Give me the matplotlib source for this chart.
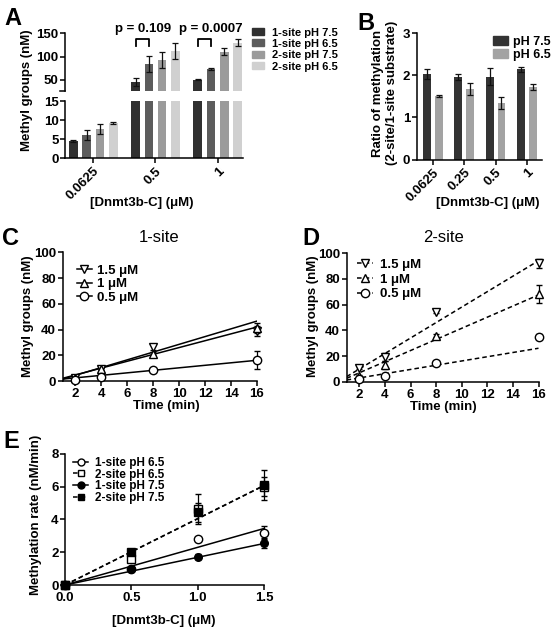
import matplotlib
matplotlib.use('Agg')
import matplotlib.pyplot as plt
import numpy as np
from matplotlib.lines import Line2D
from matplotlib.patches import Rectangle

plt.rcParams['font.family'] = ['Liberation Sans', 'DejaVu Sans']
plt.rcParams['font.weight'] = 'bold'
plt.rcParams['axes.labelweight'] = 'bold'
plt.rcParams['axes.linewidth'] = 1.1
plt.rcParams['xtick.major.width'] = 1.1
plt.rcParams['ytick.major.width'] = 1.1
plt.rcParams['xtick.major.size'] = 3.5
plt.rcParams['ytick.major.size'] = 3.5
plt.rcParams['xtick.major.pad'] = 1.5
plt.rcParams['ytick.major.pad'] = 1.2
plt.rcParams['xtick.labelsize'] = 9.5
plt.rcParams['ytick.labelsize'] = 9.5

# ---------------- data ----------------
# Panel A
a_conc = ['0.0625', '0.5', '1']
a_series = ['1-site pH 7.5', '1-site pH 6.5', '2-site pH 7.5', '2-site pH 6.5']
a_vals = [[4.5, 46, 51], [6.0, 84, 74], [7.6, 93, 111], [9.3, 113, 130]]
a_errs = [[0.3, 9, 1.2], [1.3, 17, 2.5], [1.3, 18, 8], [0.2, 17, 7]]
a_colors = ['#303030', '#5c5c5c', '#9b9b9b', '#d0d0d0']
a_pvals = ['p = 0.109', 'p = 0.0007']

# Panel B
b_conc = ['0.0625', '0.25', '0.5', '1']
b_series = ['pH 7.5', 'pH 6.5']
b_vals = [[2.04, 1.96, 1.97, 2.15], [1.51, 1.68, 1.34, 1.73]]
b_errs = [[0.12, 0.08, 0.20, 0.06], [0.02, 0.15, 0.14, 0.07]]
b_colors = ['#333333', '#a3a3a3']

# Panel C (1-site) and D (2-site): time courses
time = [2, 4, 8, 16]
conc_labels = ['1.5 μM', '1 μM', '0.5 μM']
c_vals = [[2.3, 9.6, 26.4, 39], [2.0, 9.0, 21.3, 41], [1.0, 3.1, 8.3, 16.6]]
c_errs = [[0.5, 1.0, 2.0, 4], [0.5, 1.0, 1.0, 4], [0.3, 0.5, 1.0, 7]]
c_slope = [3.01, 2.66, 0.975]
c_icpt = [-1.6, -0.6, 0.5]
d_vals = [[10.9, 19, 54.5, 92.2], [4.4, 13, 35.8, 68.3], [2.0, 4.4, 14.8, 35]]
d_errs = [[1.0, 3.0, 1.0, 3.5], [1.0, 3.0, 1.0, 7], [0.5, 0.5, 1.0, 2]]
d_slope = [6.02, 4.33, 1.65]
d_icpt = [-2.1, -1.7, -0.35]
cd_markers = ['v', '^', 'o']

# Panel E: rate vs enzyme
e_conc = [0, 0.5, 1.0, 1.5]
e_labels = ['1-site pH 6.5', '2-site pH 6.5', '1-site pH 7.5', '2-site pH 7.5']
e_vals = [[0, 1.0, 2.79, 3.19], [0, 1.58, 4.63, 6.0], [0, 0.98, 1.73, 2.54], [0, 2.03, 4.43, 6.1]]
e_errs = [[0, 0.05, 0.1, 0.4], [0, 0.2, 0.9, 0.6], [0, 0.05, 0.15, 0.3], [0, 0.1, 0.6, 0.9]]
e_slope = [2.3, 4.05, 1.69, 4.05]
e_markers = ['o', 's', 'o', 's']
e_filled = [False, False, True, True]
e_dashed = [False, True, False, True]

# ---------------- figure ----------------
W, H = 555, 632
fig = plt.figure(figsize=(W / 100, H / 100), dpi=100)


def fx(x):
    return x / W


def fy(y):
    return 1 - y / H


def axes_px(l, t, r, b):
    return fig.add_axes([l / W, 1 - b / H, (r - l) / W, (b - t) / H])


def clean(ax):
    ax.spines['top'].set_visible(False)
    ax.spines['right'].set_visible(False)


def ftext(x, y, s, **kw):
    fig.text(fx(x), fy(y), s, **kw)


LW = 1.1

# ---------------- Panel A ----------------
axA_up = axes_px(65, 33.3, 243, 91)
axA_lo = axes_px(65, 101, 243, 158.3)
a_off = [-0.321, -0.107, 0.107, 0.321]
a_w = 0.137
xa = np.arange(len(a_conc))
for i in range(4):
    for ax in (axA_up, axA_lo):
        ax.bar(xa + a_off[i], a_vals[i], width=a_w, color=a_colors[i],
               yerr=a_errs[i], capsize=2,
               error_kw=dict(elinewidth=0.9, capthick=0.9, ecolor='#111111'))
for ax in (axA_up, axA_lo):
    clean(ax)
    ax.set_xlim(-0.455, 2.407)
axA_up.set_ylim(26.4, 150)
axA_up.set_yticks([50, 100, 150])
axA_up.spines['bottom'].set_visible(False)
axA_up.tick_params(bottom=False, labelbottom=False)
axA_up.plot([-0.03, 0.0], [0, 0], transform=axA_up.transAxes, color='k', lw=LW, clip_on=False)
axA_lo.set_ylim(0, 15)
axA_lo.set_yticks([0, 5, 10, 15])
axA_lo.set_xticks(xa)
axA_lo.set_xticklabels(a_conc, rotation=45, ha='right', rotation_mode='anchor')

# p-value brackets
for gi, (ptxt, tx) in enumerate(zip(a_pvals, [0.808, 1.893])):
    g = gi + 1
    x1, x2 = g + a_off[0], g + a_off[1]
    axA_up.plot([x1, x1, x2, x2], [122.8, 137.8, 137.8, 122.8], color='k', lw=1.3, clip_on=False)
    axA_up.text(tx, 152, ptxt, ha='center', va='baseline', fontsize=9.5, clip_on=False)

ftext(27, 90, 'Methyl groups (nM)', rotation=90, ha='center', va='center', fontsize=9.5)
ftext(142, 203, '[Dnmt3b-C] (μM)', ha='center', va='center', fontsize=9.5)
ftext(4, 25, 'A', fontsize=17, va='baseline')

# legend A
rows = [31.7, 42.7, 54.0, 65.7]
for i, lab in enumerate(a_series):
    fig.add_artist(Rectangle((fx(251.7), fy(rows[i] + 3.5)), 12.3 / W, 7 / H,
                             transform=fig.transFigure, color=a_colors[i]))
    ftext(271.7, rows[i], lab, va='center_baseline', fontsize=8)

# ---------------- Panel B ----------------
axB = axes_px(416.7, 33.3, 541.5, 159.5)
xb = np.arange(len(b_conc))
b_off = [-0.186, 0.186]
for i in range(2):
    axB.bar(xb + b_off[i], b_vals[i], width=0.25, color=b_colors[i], yerr=b_errs[i],
            capsize=2, error_kw=dict(elinewidth=0.9, capthick=0.9, ecolor='#111111'))
clean(axB)
axB.set_xlim(-0.51, 3.46)
axB.set_ylim(0, 3)
axB.set_yticks([0, 1, 2, 3])
axB.set_xticks(xb)
axB.set_xticklabels(b_conc, rotation=45, ha='right', rotation_mode='anchor')
ftext(385, 93, 'Ratio of methylation\n(2-site/1-site substrate)', rotation=90,
      ha='center', va='center', fontsize=9.5, multialignment='center')
ftext(488, 203, '[Dnmt3b-C] (μM)', ha='center', va='center', fontsize=9.5)
ftext(357, 30, 'B', fontsize=17, va='baseline')
rows = [40.7, 53.3]
for i, lab in enumerate(b_series):
    fig.add_artist(Rectangle((fx(493), fy(rows[i] + 4.5)), 15 / W, 9 / H,
                             transform=fig.transFigure, color=b_colors[i]))
    ftext(513, rows[i], lab, va='center_baseline', fontsize=9)


# ---------------- Panels C & D ----------------
def time_panel(ax, vals, errs, slopes, icpts, ls):
    tl = np.array([1.0, 16.0])
    for i in range(3):
        ax.plot(tl, slopes[i] * tl + icpts[i], color='k', lw=LW, ls=ls)
        ax.errorbar(time, vals[i], yerr=errs[i], fmt=cd_markers[i], ms=6, mfc='white',
                    mec='k', mew=1.0, ecolor='k', elinewidth=0.9, capsize=2, capthick=0.9,
                    ls='none', clip_on=False, zorder=3)
    clean(ax)
    ax.set_xlim(1, 16)
    ax.set_ylim(0, 100)
    ax.set_xticks(np.arange(2, 17, 2))
    ax.set_yticks(np.arange(0, 101, 20))


axC = axes_px(62.5, 252.3, 257, 381)
time_panel(axC, c_vals, c_errs, c_slope, c_icpt, '-')
axD = axes_px(346.6, 253.3, 538.5, 381.7)
time_panel(axD, d_vals, d_errs, d_slope, d_icpt, (0, (3, 2)))

ftext(159, 237, '1-site', ha='center', va='center', fontsize=12, fontweight='normal')
ftext(443, 237, '2-site', ha='center', va='center', fontsize=12, fontweight='normal')
ftext(28, 316, 'Methyl groups (nM)', rotation=90, ha='center', va='center', fontsize=9.5)
ftext(313, 316, 'Methyl groups (nM)', rotation=90, ha='center', va='center', fontsize=9.5)
ftext(166, 406, 'Time (min)', ha='center', va='center', fontsize=9.5)
ftext(443, 407, 'Time (min)', ha='center', va='center', fontsize=9.5)
ftext(2, 245, 'C', fontsize=17, va='baseline')
ftext(302, 245, 'D', fontsize=17, va='baseline')


def legend_line(x0, x1, y, ls, marker, filled, text, tx, fs, ms=6):
    fig.add_artist(Line2D([fx(x0), fx(x1)], [fy(y), fy(y)], transform=fig.transFigure,
                          color='k', lw=LW, ls=ls))
    fig.add_artist(Line2D([fx((x0 + x1) / 2)], [fy(y)], transform=fig.transFigure,
                          marker=marker, ms=ms, mfc='k' if filled else 'white', mec='k',
                          mew=1.0, ls='none'))
    ftext(tx, y, text, va='center_baseline', fontsize=fs)


for i, y in enumerate([269.3, 282.6, 296]):
    legend_line(76.7, 91.7, y, '-', cd_markers[i], False, conc_labels[i], 96.7, 9.5)
for i, y in enumerate([263.3, 278.3, 292.7]):
    legend_line(357.3, 373.3, y, (0, (3, 2)), cd_markers[i], False, conc_labels[i], 380, 9.5)

# ---------------- Panel E ----------------
axE = axes_px(65, 453.8, 264.3, 585)
el = np.array([0.0, 1.5])
for i in range(4):
    axE.plot(el, e_slope[i] * el, color='k', lw=LW, ls=(0, (3, 2)) if e_dashed[i] else '-')
for i in range(4):
    axE.errorbar(e_conc, e_vals[i], yerr=e_errs[i], fmt=e_markers[i],
                 ms=6 if not e_filled[i] else 5.5,
                 mfc='k' if e_filled[i] else 'white', mec='k', mew=1.0, ecolor='k',
                 elinewidth=0.9, capsize=2, capthick=0.9, ls='none', clip_on=False, zorder=3 + i)
clean(axE)
axE.set_xlim(0, 1.5)
axE.set_ylim(0, 8)
axE.set_xticks([0, 0.5, 1.0, 1.5])
axE.set_xticklabels(['0.0', '0.5', '1.0', '1.5'])
axE.set_yticks([0, 2, 4, 6, 8])
ftext(36, 515, 'Methylation rate (nM/min)', rotation=90, ha='center', va='center', fontsize=9.5)
ftext(164, 621, '[Dnmt3b-C] (μM)', ha='center', va='center', fontsize=9.5)
ftext(3, 448, 'E', fontsize=17, va='baseline')
for i, y in enumerate([461.7, 473.3, 485, 496.7]):
    legend_line(73.3, 88.3, y, (0, (3, 2)) if e_dashed[i] else '-', e_markers[i], e_filled[i],
                e_labels[i], 95, 8.5, ms=5)

fig.savefig('out.png', dpi=100)
